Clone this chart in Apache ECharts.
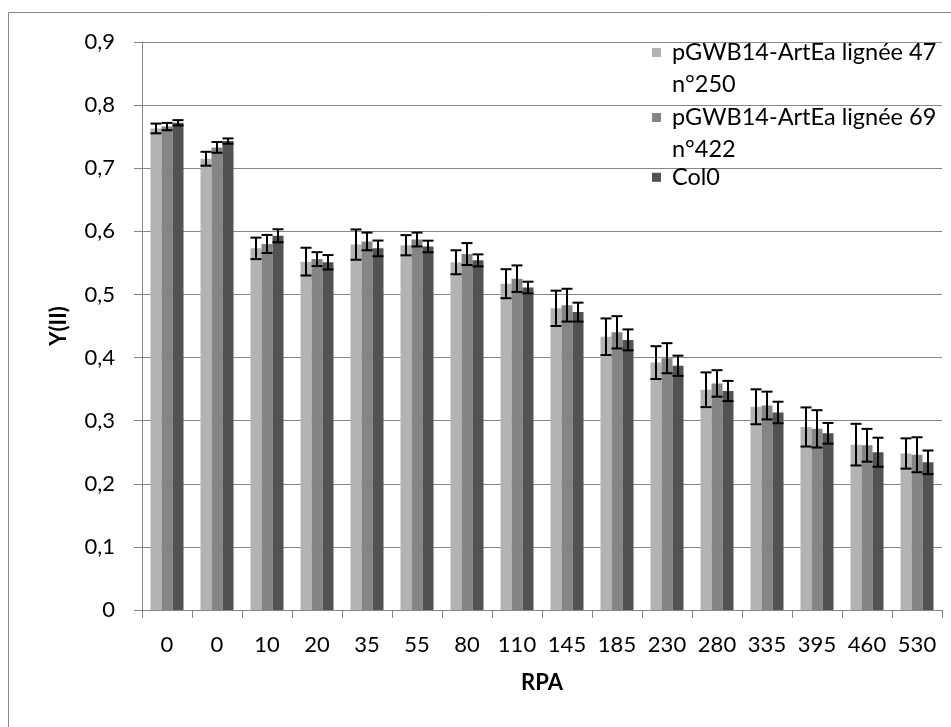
<!DOCTYPE html>
<html>
<head>
<meta charset="utf-8">
<script src="https://cdn.jsdelivr.net/npm/echarts@6/dist/echarts.min.js"></script>
<style>
html,body{margin:0;padding:0;background:#fff;}
#chart{width:951px;height:727px;}
</style>
</head>
<body>
<div id="chart"></div>
<script>
// ---- data ----
var categories = ['0','0','10','20','35','55','80','110','145','185','230','280','335','395','460','530'];
var seriesNames = ['pGWB14-ArtEa lignée 47 n°250', 'pGWB14-ArtEa lignée 69 n°422', 'Col0'];
var line47 = [0.763,0.715,0.573,0.552,0.579,0.578,0.551,0.517,0.478,0.433,0.392,0.349,0.322,0.290,0.262,0.248];
var line47Err = [0.0077,0.011,0.017,0.022,0.024,0.016,0.019,0.023,0.028,0.029,0.026,0.0275,0.0277,0.031,0.033,0.024];
var line69 = [0.766,0.733,0.580,0.556,0.584,0.587,0.564,0.525,0.483,0.440,0.399,0.359,0.324,0.287,0.261,0.246];
var line69Err = [0.0058,0.0085,0.0143,0.011,0.014,0.011,0.0174,0.021,0.026,0.0256,0.0238,0.021,0.022,0.0296,0.026,0.0277];
var col0 = [0.772,0.743,0.593,0.551,0.573,0.576,0.554,0.511,0.472,0.428,0.387,0.347,0.313,0.280,0.250,0.234];
var col0Err = [0.0042,0.0042,0.0103,0.0114,0.0124,0.0092,0.0095,0.0092,0.015,0.0166,0.016,0.016,0.017,0.0164,0.023,0.0187];
var yTickLabels = ['0','0,1','0,2','0,3','0,4','0,5','0,6','0,7','0,8','0,9'];

var colors = ['#b3b3b3', '#858585', '#525252'];
var FONT = 'Lato';
var CAT_GAP = 0.34;

var values = [line47, line69, col0];
var errors = [line47Err, line69Err, col0Err];

function errorSeries(k) {
  var data = values[k].map(function (v, i) { return [i, v, errors[k][i]]; });
  return {
    type: 'custom',
    silent: true,
    z: 10,
    encode: { x: 0, y: 1 },
    data: data,
    renderItem: function (params, api) {
      var i = api.value(0), v = api.value(1), e = api.value(2);
      var band = api.size([1, 0])[0];
      var bw = band * (1 - CAT_GAP) / 3;
      var c = api.coord([i, v]);
      var x = c[0] + (k - 1) * bw;
      var top = api.coord([i, v + e])[1];
      var bot = api.coord([i, v - e])[1];
      var hw = bw / 2;
      var st = { stroke: '#000', lineWidth: 2 };
      return {
        type: 'group',
        children: [
          { type: 'line', shape: { x1: x, y1: top, x2: x, y2: bot }, style: st },
          { type: 'line', shape: { x1: x - hw, y1: top, x2: x + hw, y2: top }, style: st },
          { type: 'line', shape: { x1: x - hw, y1: bot, x2: x + hw, y2: bot }, style: st }
        ]
      };
    }
  };
}

var series = [];
for (var k = 0; k < 3; k++) {
  series.push({
    name: seriesNames[k],
    type: 'bar',
    data: values[k],
    barGap: 0,
    barCategoryGap: (CAT_GAP * 100) + '%',
    itemStyle: { color: colors[k] },
    silent: true
  });
}
for (var k2 = 0; k2 < 3; k2++) series.push(errorSeries(k2));

function legendFor(idx, top) {
  return {
    data: [seriesNames[idx]],
    left: 652,
    top: top,
    padding: 0,
    orient: 'vertical',
    icon: 'rect',
    itemWidth: 9,
    itemHeight: 9,
    selectedMode: false,
    formatter: function (n) {
      // wrap like the original: first line aligned with the swatch
      return n.indexOf(' n°') >= 0 ? '\u00a0\n' + n.replace(' n°', '\nn°') : n;
    },
    textStyle: {
      fontFamily: FONT,
      fontSize: 23.5,
      color: '#000',
      lineHeight: 32,
      padding: [0, 0, 0, 6]
    }
  };
}

var chart = echarts.init(document.getElementById('chart'), null, { renderer: 'canvas' });
chart.setOption({
  animation: false,
  backgroundColor: '#fff',
  graphic: [{
    type: 'rect',
    silent: true,
    z: -10,
    shape: { x: 8.5, y: 12.5, width: 980, height: 760 },
    style: { fill: 'none', stroke: '#868686', lineWidth: 1 }
  }],
  grid: { left: 142, right: 9, top: 42, bottom: 117 },
  legend: [legendFor(0, 4.5), legendFor(1, 69.5), legendFor(2, 161.3)],
  xAxis: {
    type: 'category',
    data: categories,
    name: 'RPA',
    nameLocation: 'middle',
    nameGap: 62,
    nameTextStyle: { fontFamily: FONT, fontSize: 22, fontWeight: 'bold', color: '#000' },
    axisLine: { lineStyle: { color: '#868686', width: 1 } },
    axisTick: { show: true, length: 8, lineStyle: { color: '#868686' } },
    axisLabel: { fontFamily: FONT, fontSize: 22, color: '#000', margin: 24, interval: 0 }
  },
  yAxis: {
    type: 'value',
    min: 0,
    max: 0.9,
    interval: 0.1,
    name: 'Y(II)',
    nameLocation: 'middle',
    nameRotate: 90,
    nameGap: 72,
    nameTextStyle: { fontFamily: FONT, fontSize: 22, fontWeight: 'bold', color: '#000' },
    axisLine: { show: true, lineStyle: { color: '#868686', width: 1 } },
    axisTick: { show: true, length: 8, lineStyle: { color: '#868686' } },
    splitLine: { show: true, lineStyle: { color: '#868686', width: 1 } },
    axisLabel: {
      fontFamily: FONT, fontSize: 22, color: '#000', margin: 27,
      formatter: function (v) { return yTickLabels[Math.round(v * 10)]; }
    }
  },
  series: series
});
</script>
</body>
</html>
